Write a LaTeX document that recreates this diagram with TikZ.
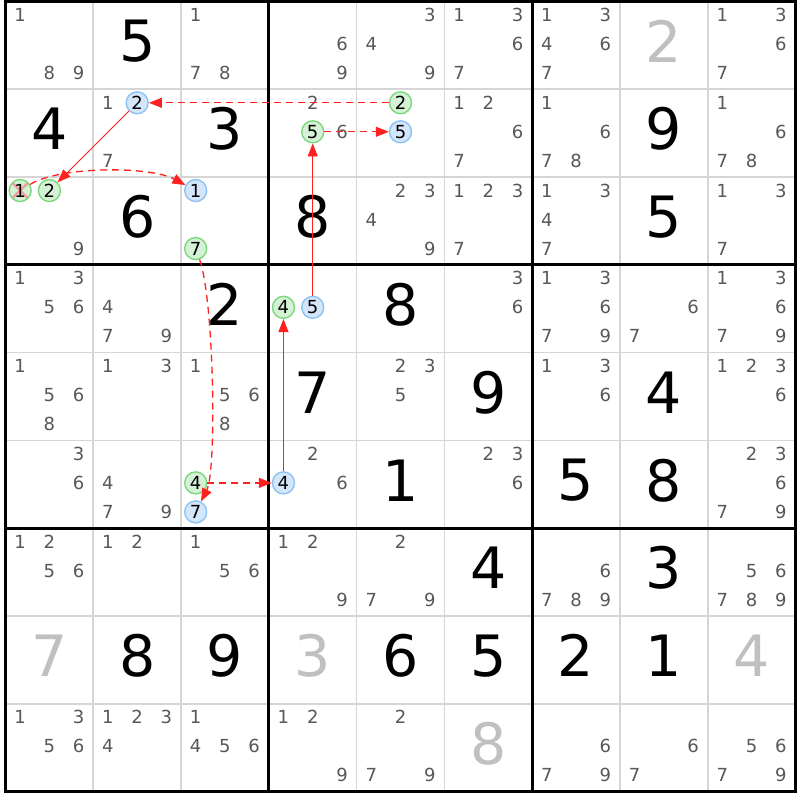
\documentclass[tikz,border=0pt]{standalone}
\usepackage{fontspec}
\setmainfont{DejaVu Sans}
\usetikzlibrary{arrows.meta}
\definecolor{candgray}{HTML}{585858}
\definecolor{givengray}{HTML}{C0C0C0}
\definecolor{gridgray}{HTML}{D6D6D6}
\definecolor{gfill}{HTML}{D6F2D6}
\definecolor{gline}{HTML}{7DD87D}
\definecolor{bfill}{HTML}{D4E6FA}
\definecolor{bline}{HTML}{8EC2F2}
\definecolor{chainred}{HTML}{FF2020}
\definecolor{xred}{HTML}{F2A0A0}
\tikzset{
 cand/.style={font=\fontsize{18}{18}\selectfont, text=candgray, inner sep=0pt},
 bigd/.style={font=\fontsize{57}{60}\selectfont, text=black, inner sep=0pt},
 bigg/.style={bigd, text=givengray},
 gcirc/.style={circle, draw=gline, fill=gfill, line width=1.4pt, minimum size=22pt, inner sep=0pt, font=\fontsize{18}{18}\selectfont, text=black},
 bcirc/.style={gcirc, draw=bline, fill=bfill},
 xcirc/.style={gcirc, path picture={\draw[xred, line width=2.5pt] (path picture bounding box.north west) -- (path picture bounding box.south east) (path picture bounding box.north east) -- (path picture bounding box.south west);}},
 weak/.style={draw=chainred, line width=1.3pt, dash pattern=on 7pt off 5pt, -{Triangle[length=13pt,width=10pt]}},
 strong/.style={draw=chainred, line width=0.9pt, -{Triangle[length=13pt,width=10pt]}},
 thinline/.style={draw=gridgray, line width=1.6pt},
 thickline/.style={draw=black, line width=3pt, line cap=rect},
}
\begin{document}
\begin{tikzpicture}[x=1pt,y=-1pt]
\useasboundingbox (0,0) rectangle (800,800);
\fill[white] (0,0) rectangle (800,800);
% thin grid lines
\foreach \i in {1,2,4,5,7,8} {
  \pgfmathsetmacro\p{5.5+\i*87.7778}
  \pgfmathsetmacro\q{1.5+\i*87.7778}
  \draw[thinline] (\p,1.5) -- (\p,791.5);
  \draw[thinline] (5.5,\q) -- (795.5,\q);
}
% thick grid lines
\foreach \i in {3,6} {
  \pgfmathsetmacro\p{5.5+\i*87.7778}
  \pgfmathsetmacro\q{1.5+\i*87.7778}
  \draw[thickline] (\p,1.5) -- (\p,791.5);
  \draw[thickline] (5.5,\q) -- (795.5,\q);
}
\draw[thickline] (5.5,1.5) rectangle (795.5,791.5);
% big digits
\foreach \r/\c/\d/\s in {1/2/5/bigd, 1/8/2/bigg,
  2/1/4/bigd, 2/3/3/bigd, 2/8/9/bigd,
  3/2/6/bigd, 3/4/8/bigd, 3/8/5/bigd,
  4/3/2/bigd, 4/5/8/bigd,
  5/4/7/bigd, 5/6/9/bigd, 5/8/4/bigd,
  6/5/1/bigd, 6/7/5/bigd, 6/8/8/bigd,
  7/6/4/bigd, 7/8/3/bigd,
  8/1/7/bigg, 8/2/8/bigd, 8/3/9/bigd, 8/4/3/bigg, 8/5/6/bigd, 8/6/5/bigd, 8/7/2/bigd, 8/8/1/bigd, 8/9/4/bigg,
  9/6/8/bigg} {
  \pgfmathsetmacro\xx{5.5+(\c-0.5)*87.7778}
  \pgfmathsetmacro\yy{1.5+(\r-0.5)*87.7778-4}
  \node[\s] (v\r\c) at (\xx,\yy) {\d};
}
% candidates
\foreach \r/\c/\L in {
  1/1/{1,8,9}, 1/3/{1,7,8}, 1/4/{6,9}, 1/5/{3,4,9}, 1/6/{1,3,6,7}, 1/7/{1,3,4,6,7}, 1/9/{1,3,6,7},
  2/2/{1,7}, 2/4/{2,6}, 2/6/{1,2,6,7}, 2/7/{1,6,7,8}, 2/9/{1,6,7,8},
  3/1/{9}, 3/5/{2,3,4,9}, 3/6/{1,2,3,7}, 3/7/{1,3,4,7}, 3/9/{1,3,7},
  4/1/{1,3,5,6}, 4/2/{4,7,9}, 4/6/{3,6}, 4/7/{1,3,6,7,9}, 4/8/{6,7}, 4/9/{1,3,6,7,9},
  5/1/{1,5,6,8}, 5/2/{1,3}, 5/3/{1,5,6,8}, 5/5/{2,3,5}, 5/7/{1,3,6}, 5/9/{1,2,3,6},
  6/1/{3,6}, 6/2/{4,7,9}, 6/4/{2,6}, 6/6/{2,3,6}, 6/9/{2,3,6,7,9},
  7/1/{1,2,5,6}, 7/2/{1,2}, 7/3/{1,5,6}, 7/4/{1,2,9}, 7/5/{2,7,9}, 7/7/{6,7,8,9}, 7/9/{5,6,7,8,9},
  9/1/{1,3,5,6}, 9/2/{1,2,3,4}, 9/3/{1,4,5,6}, 9/4/{1,2,9}, 9/5/{2,7,9}, 9/7/{6,7,9}, 9/8/{6,7}, 9/9/{5,6,7,9}} {
  \foreach \d in \L {
    \pgfmathsetmacro\xx{5.5+(\c-1)*87.7778+14.63+mod(\d-1,3)*29.26}
    \pgfmathsetmacro\yy{1.5+(\r-1)*87.7778+13.5+floor((\d-1)/3)*29}
    \node[cand] (k\r\c\d) at (\xx,\yy) {\d};
  }
}
% highlighted candidates
\node[bcirc] (b222) at (137.17,102.78) {2};
\node[gcirc] (g245) at (312.72,131.78) {5};
\node[gcirc] (g252) at (400.5,102.78) {2};
\node[bcirc] (b255) at (400.5,131.78) {5};
\node[xcirc] (g311) at (20.13,190.56) {1};
\node[gcirc] (g312) at (49.39,190.56) {2};
\node[bcirc] (b331) at (195.69,190.56) {1};
\node[gcirc] (g337) at (195.69,248.56) {7};
\node[gcirc] (g444) at (283.46,307.33) {4};
\node[bcirc] (b445) at (312.72,307.33) {5};
\node[gcirc] (g634) at (195.69,482.89) {4};
\node[bcirc] (b637) at (195.69,511.89) {7};
\node[bcirc] (b644) at (283.46,482.89) {4};
% chain
\draw[weak] (g252) -- (b222);
\draw[strong] (b222) -- (g312);
\draw[weak] (g311) .. controls (60,166) and (150,166) .. (b331);
\draw[weak] (g337) .. controls (214,300) and (217,470) .. (b637);
\draw[weak] (g634) -- (b644);
\draw[strong] (b644) -- (g444);
\draw[strong] (b445) -- (g245);
\draw[weak] (g245) -- (b255);
\end{tikzpicture}
\end{document}
